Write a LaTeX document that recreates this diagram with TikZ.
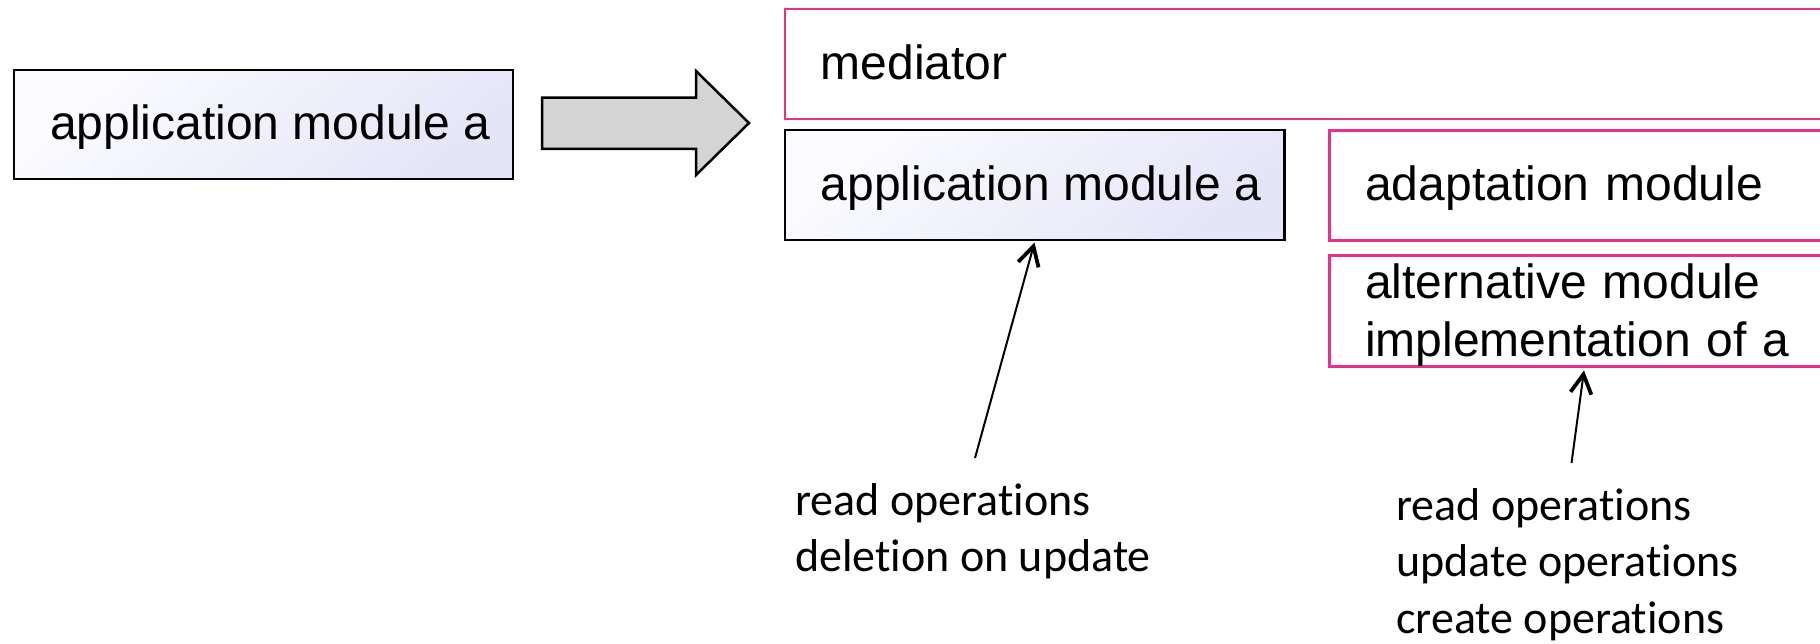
\documentclass[tikz,border=0pt]{standalone}
\usepackage{fontspec}
\setmainfont{Liberation Sans}
\newfontfamily\notefont[Ligatures=NoCommon]{Carlito}
\usetikzlibrary{arrows.meta,calc}
\definecolor{boxpink}{HTML}{E8308A}
\definecolor{appfillA}{HTML}{FBFBFF}
\definecolor{appfillB}{HTML}{E5E5F8}
\definecolor{arrowgray}{HTML}{D4D4D4}

\begin{document}
\begin{tikzpicture}[x=1pt,y=-1pt,
  modbox/.style={draw, line width=2.5pt, anchor=north west, inner sep=0pt,
    inner xsep=36pt, align=left, font=\fontsize{48}{58}\selectfont},
  appbox/.style={modbox, draw=black, top color=appfillA, bottom color=appfillB,
    shading angle=40},
  medbox/.style={modbox, draw=boxpink, fill=white},
  note/.style={anchor=base west, inner sep=0pt, align=left,
    font=\notefont\fontsize{46}{56.3}\selectfont},
  pointer/.style={line width=2pt,
    -{Straight Barb[length=19pt,width=21pt,line width=3.8pt]}}
]
\useasboundingbox (0,0) rectangle (1820,643);
\clip (0,0) rectangle (1820,643);

% original module
\node[appbox, minimum height=109pt, text height=40pt, text depth=10pt]
  (srcA) at (12.8,68.5) {\makebox[427pt][l]{application module a}};

% transformation arrow
\draw[line width=2.5pt, fill=arrowgray, line join=miter]
  (542,97.5) -- (696,97.5) -- (696,71) -- (749,123) -- (696,175)
  -- (696,148.8) -- (542,148.8) -- cycle;

% mediated configuration
\node[medbox, text width=1100pt, minimum height=110pt, text height=41pt, text depth=10pt]
  (med) at (783.5,7.5) {mediator};
\node[appbox, minimum height=110pt, text height=41pt, text depth=10pt]
  (appR) at (783.5,128.5) {\makebox[427.5pt][l]{application module a}};
\node[medbox, text width=1100pt, minimum height=110pt, text height=41pt, text depth=10pt]
  (adapt) at (1328,129) {adaptation module};
\node[medbox, text width=1100pt, minimum height=110pt, text height=43pt, text depth=68pt]
  (alt) at (1328,254) {alternative module\\implementation of a};

% notes
\node[note] (noteA) at (795,571.7) {read operations\\deletion on update};
\node[note] (noteB) at (1396,633) {read operations\\update operations\\create operations};

\coordinate (tailA) at (975,458);
\coordinate (tailB) at (1571.5,463);
\coordinate (tipB) at ($(alt.south west)+(256,3)$);
\draw[pointer] (tailA) -- ($(appR.south)+(0,1.5)$);
\draw[pointer] (tailB) -- (tipB);
\end{tikzpicture}
\end{document}
